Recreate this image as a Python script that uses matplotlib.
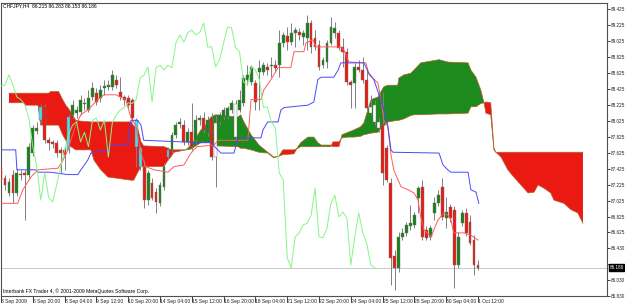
import numpy as np
import matplotlib.pyplot as plt
from matplotlib.patches import Rectangle
import matplotlib.transforms as mtransforms

plt.rcParams['font.family'] = ['Liberation Sans', 'DejaVu Sans']

# CHFJPY H4 candles, 3 Sep - 1 Oct 2009
opens = [87.43, 87.31, 87.12, 87.35, 87.12, 87.36, 87.37, 87.35, 87.62, 87.90,
         88.03, 88.20, 87.78, 87.76, 87.75, 87.66, 87.66, 87.66, 88.10, 88.12,
         88.13, 88.24, 88.16, 88.32, 88.37, 88.31, 88.44, 88.45, 88.45, 88.54,
         88.39, 88.32, 88.31, 88.29, 88.03, 87.68, 87.45, 87.03, 87.25, 87.13,
         86.99, 87.20, 87.57, 87.66, 87.85, 87.99, 87.97, 87.76, 87.88, 87.78,
         88.03, 88.06, 87.87, 88.06, 87.57, 88.01, 88.07, 88.07, 88.16, 87.82,
         88.16, 88.25, 88.54, 88.51, 88.50, 88.64, 88.64, 88.70, 88.71, 88.72,
         88.72, 89.00, 89.09, 89.01, 89.13, 89.14, 89.07, 89.06, 89.25, 89.06,
         88.97, 88.72, 88.76, 89.00, 89.13, 89.13, 88.95, 88.89, 88.51, 88.50,
         88.70, 88.66, 88.54, 88.12, 88.22, 88.01, 87.97, 87.68, 87.25, 86.33,
         86.18, 86.57, 86.62, 86.71, 86.72, 87.06, 87.20, 86.66, 86.57, 86.87,
         86.99, 87.20, 86.81, 86.94, 86.91, 86.22, 86.74, 86.87, 86.76, 86.53,
         86.215]
highs = [87.53, 87.35, 87.31, 87.41, 87.43, 87.41, 87.41, 87.75, 87.97, 88.01,
         88.24, 88.24, 87.82, 87.78, 87.78, 87.70, 87.70, 88.11, 88.29, 88.21,
         88.35, 88.31, 88.41, 88.51, 88.44, 88.47, 88.54, 88.54, 88.66, 88.60,
         88.57, 88.35, 88.35, 88.31, 88.06, 87.72, 87.53, 87.41, 87.31, 87.18,
         87.26, 87.50, 87.70, 87.88, 88.01, 88.06, 88.03, 87.94, 88.25, 88.10,
         88.10, 88.13, 88.09, 88.12, 88.10, 88.13, 88.20, 88.21, 88.29, 88.29,
         88.41, 88.60, 88.72, 88.72, 88.54, 88.79, 88.76, 88.75, 88.82, 88.79,
         89.16, 89.14, 89.20, 89.25, 89.20, 89.19, 89.16, 89.35, 89.29, 89.16,
         89.04, 88.82, 89.04, 89.32, 89.26, 89.16, 89.06, 88.94, 88.54, 88.75,
         88.79, 88.82, 88.66, 88.35, 88.29, 88.06, 88.39, 87.72, 87.31, 86.41,
         86.63, 86.68, 86.76, 86.97, 86.88, 87.21, 87.28, 86.71, 86.72, 87.07,
         87.16, 87.31, 87.07, 86.98, 86.96, 86.63, 86.91, 86.93, 86.84, 86.59,
         86.283]
lows = [87.03, 87.16, 87.08, 86.99, 87.08, 87.28, 86.78, 87.31, 87.58, 87.86,
        88.00, 87.75, 87.66, 87.68, 87.57, 87.37, 87.41, 87.62, 88.06, 88.06,
        88.10, 88.16, 88.13, 88.29, 88.22, 88.26, 88.35, 88.41, 88.41, 88.44,
        88.29, 88.22, 88.19, 88.01, 87.45, 87.41, 86.93, 86.97, 87.03, 86.87,
        86.96, 87.16, 87.53, 87.62, 87.81, 87.94, 87.72, 87.72, 87.66, 87.75,
        87.97, 87.87, 87.83, 87.53, 87.20, 87.97, 88.03, 88.05, 88.12, 87.78,
        88.13, 88.21, 88.47, 88.47, 88.16, 88.16, 88.60, 88.60, 88.57, 88.64,
        88.57, 88.95, 88.91, 88.97, 88.95, 89.04, 88.97, 88.91, 88.87, 88.91,
        88.66, 88.69, 88.69, 88.97, 89.06, 88.91, 88.70, 88.47, 88.19, 88.19,
        88.64, 88.50, 88.16, 88.10, 87.97, 87.88, 87.22, 87.26, 85.97, 85.90,
        86.13, 86.53, 86.58, 86.66, 86.68, 86.87, 86.53, 86.53, 86.53, 86.78,
        86.96, 86.78, 86.68, 86.76, 85.93, 86.18, 86.71, 86.58, 86.47, 86.09,
        86.153]
closes = [87.28, 87.22, 87.26, 87.12, 87.37, 87.35, 87.35, 87.70, 87.94, 87.94,
          88.20, 87.78, 87.75, 87.73, 87.62, 87.62, 87.60, 88.07, 88.22, 88.16,
          88.29, 88.25, 88.31, 88.44, 88.26, 88.41, 88.46, 88.47, 88.60, 88.47,
          88.32, 88.29, 88.22, 88.06, 87.70, 87.45, 87.03, 87.37, 87.06, 87.01,
          87.22, 87.45, 87.66, 87.85, 87.97, 88.01, 87.76, 87.88, 87.70, 88.03,
          88.06, 87.91, 88.03, 87.57, 88.00, 88.10, 88.16, 88.19, 88.25, 88.24,
          88.29, 88.56, 88.60, 88.70, 88.26, 88.69, 88.72, 88.66, 88.72, 88.69,
          89.00, 89.10, 89.01, 89.13, 89.16, 89.10, 89.13, 89.25, 88.95, 88.95,
          88.70, 88.79, 89.00, 89.20, 89.19, 88.94, 88.89, 88.51, 88.47, 88.70,
          88.66, 88.54, 88.19, 88.20, 88.01, 87.94, 87.37, 87.28, 86.31, 86.18,
          86.57, 86.62, 86.72, 86.74, 86.84, 87.18, 86.57, 86.56, 86.68, 86.99,
          87.09, 86.82, 86.88, 86.81, 86.22, 86.57, 86.87, 86.62, 86.49, 86.22,
          86.186]

# candles drawn over the cloud (colours inverted there)
in_red_cloud = [10, 17, 34, 35, 42]
in_green_cloud = [54, 59, 93, 94, 95]

# Tenkan-sen (red) and Kijun-sen (blue), vertices as (bar, price)
tenkan_bar = [0.0, 4.2, 5.5, 7.5, 9.3, 14.3, 15.6, 16.8, 18.8, 20.1, 21.8, 24.4, 25.9,
              28.9, 31.4, 32.7, 33.9, 35.2, 36.4, 38.5, 42.0, 43.5, 46.0, 47.8, 49.3,
              53.6, 54.6, 62.1, 62.9, 65.4, 66.1, 67.9, 69.7, 72.9, 73.7, 76.2, 76.7,
              78.5, 79.2, 85.5, 86.3, 87.5, 91.8, 92.6, 94.8, 95.6, 96.3, 97.3, 98.1,
              98.8, 100.6, 102.4, 103.9, 104.9, 105.6, 106.4, 108.2, 108.9, 109.9,
              111.4, 112.4, 113.2, 113.9, 116.5, 118.2, 120.0]
tenkan = [86.99, 86.99, 87.16, 87.32, 87.41, 87.43, 87.53, 87.66, 87.97, 88.10, 88.16,
          88.29, 88.35, 88.35, 88.29, 88.06, 87.97, 87.62, 87.45, 87.41, 87.38, 87.45,
          87.47, 87.62, 87.70, 87.72, 87.78, 87.78, 88.29, 88.29, 88.41, 88.54, 88.69,
          88.69, 88.89, 88.89, 89.00, 89.04, 88.95, 88.95, 88.91, 88.76, 88.75, 88.60,
          88.50, 88.29, 88.03, 87.95, 87.60, 87.41, 87.20, 87.16, 87.12, 87.03, 86.82,
          86.66, 86.57, 86.66, 86.78, 86.87, 86.84, 86.78, 86.62, 86.62, 86.59, 86.53]
kijun_bar = [0.0, 3.7, 4.0, 8.8, 9.3, 12.5, 16.8, 19.3, 20.1, 21.8, 22.6, 26.9, 27.6,
             31.9, 32.2, 32.7, 34.4, 35.2, 35.9, 50.3, 52.8, 55.3, 58.6, 59.6, 65.4,
             65.9, 67.1, 69.7, 70.4, 71.2, 77.2, 78.7, 79.7, 80.5, 83.7, 84.8, 85.5,
             91.3, 92.3, 93.8, 95.1, 96.1, 97.3, 98.1, 98.6, 110.2, 111.2, 112.4, 113.2,
             117.5, 118.2, 119.5, 120.2]
kijun = [87.66, 87.66, 87.41, 87.41, 87.38, 87.38, 87.35, 87.35, 87.41, 87.53, 87.62,
         87.66, 87.72, 87.72, 87.87, 88.03, 88.03, 87.97, 87.78, 87.75, 87.75, 87.62,
         87.62, 87.81, 87.81, 87.91, 88.01, 88.01, 88.16, 88.19, 88.22, 88.26, 88.54,
         88.57, 88.57, 88.66, 88.75, 88.75, 88.64, 88.54, 88.35, 88.20, 87.97, 87.66,
         87.63, 87.62, 87.47, 87.41, 87.38, 87.38, 87.16, 87.13, 86.99]

# Senkou span A / B (cloud edges), same bar positions for both
cloud_bar = [2.0, 5.7, 6.2, 9.3, 10.0, 12.0, 12.5, 14.5, 15.5, 16.3, 16.8, 17.6, 18.8,
             20.1, 22.6, 23.4, 25.1, 26.9, 32.7, 33.4, 34.4, 35.2, 35.9, 41.0, 42.0,
             42.7, 43.5, 46.5, 47.8, 49.0, 50.3, 51.5, 52.8, 54.0, 59.6, 60.3, 61.1,
             62.9, 64.9, 67.1, 68.6, 69.9, 70.9, 73.7, 74.7, 75.4, 77.2, 78.7, 79.7,
             80.5, 83.0, 83.5, 85.0, 85.8, 87.3, 88.8, 90.5, 91.3, 92.3, 93.1, 94.8,
             95.6, 96.3, 97.3, 99.8, 100.1, 101.4, 103.1, 103.9, 105.6, 110.2, 112.4,
             117.5, 118.2, 119.5, 120.7, 121.5, 122.0, 123.2, 124.0, 124.5, 125.8,
             127.5, 129.0, 130.8, 132.6, 134.1, 135.1, 136.6, 138.3, 139.1, 141.6,
             143.4, 145.1, 146.4]
span_a = [88.25, 88.25, 88.22, 88.22, 87.97, 87.97, 87.97, 87.97, 87.85, 87.78, 87.72,
          87.70, 87.66, 87.66, 87.66, 87.53, 87.41, 87.32, 87.28, 87.28, 87.38, 87.45,
          87.45, 87.45, 87.53, 87.57, 87.63, 87.66, 87.72, 87.81, 87.91, 87.97, 88.07,
          88.10, 88.07, 88.10, 88.01, 87.85, 87.72, 87.63, 87.57, 87.58, 87.60, 87.61,
          87.70, 87.75, 87.82, 87.82, 87.75, 87.72, 87.72, 87.70, 87.70, 87.85, 87.88,
          87.91, 87.95, 88.00, 88.16, 88.29, 88.32, 88.39, 88.45, 88.47, 88.47, 88.56,
          88.60, 88.62, 88.66, 88.75, 88.79, 88.76, 88.75, 88.66, 88.57, 88.41, 88.25,
          88.12, 88.10, 87.66, 87.63, 87.57, 87.41, 87.32, 87.22, 87.12, 87.13, 87.22,
          87.18, 87.12, 87.03, 86.99, 86.91, 86.87, 86.74]
span_b = [88.37, 88.37, 88.37, 88.37, 88.37, 88.37, 88.39, 88.39, 88.29, 88.22, 88.19,
          88.13, 88.03, 88.02, 88.01, 88.01, 88.01, 88.01, 88.01, 87.96, 87.93, 87.76,
          87.71, 87.70, 87.68, 87.66, 87.66, 87.66, 87.67, 87.71, 87.75, 87.75, 87.75,
          87.71, 87.70, 87.68, 87.68, 87.66, 87.63, 87.62, 87.56, 87.58, 87.66, 87.66,
          87.68, 87.70, 87.70, 87.70, 87.70, 87.70, 87.70, 87.76, 87.76, 87.81, 87.82,
          87.82, 87.83, 87.85, 87.86, 87.87, 87.88, 87.93, 87.96, 88.01, 88.03, 88.03,
          88.05, 88.09, 88.10, 88.10, 88.11, 88.11, 88.12, 88.20, 88.20, 88.24, 88.25,
          88.26, 88.25, 87.68, 87.63, 87.63, 87.63, 87.63, 87.63, 87.63, 87.63, 87.63,
          87.63, 87.63, 87.63, 87.63, 87.63, 87.63, 87.63]

price_ticks = [89.425, 89.225, 89.025, 88.825, 88.625, 88.425, 88.225, 88.025, 87.825,
               87.625, 87.425, 87.225, 87.025, 86.825, 86.625, 86.430, 86.230, 86.030,
               85.830]
price_labels = ['89.425', '89.225', '89.025', '88.825', '88.625', '88.425', '88.225',
                '88.025', '87.825', '87.625', '87.425', '87.225', '87.025', '86.825',
                '86.625', '86.430', '', '86.030', '85.830']
date_labels = ['3 Sep 2009', '6 Sep 20:00', '8 Sep 04:00', '9 Sep 12:00', '10 Sep 20:00',
               '14 Sep 04:00', '15 Sep 12:00', '16 Sep 20:00', '18 Sep 04:00',
               '21 Sep 12:00', '22 Sep 20:00', '24 Sep 04:00', '25 Sep 12:00',
               '28 Sep 20:00', '30 Sep 04:00', '1 Oct 12:00']
bid = 86.186

o = np.array(opens); h = np.array(highs); l = np.array(lows); c = np.array(closes)
bars = np.arange(len(c))
cb = np.array(cloud_bar); sa = np.array(span_a); sb = np.array(span_b)

fig = plt.figure(figsize=(6.25, 3.05), dpi=100)
ax = fig.add_axes([0.5 / 625, 9 / 305, 606.5 / 625, 293 / 305])
ax.set_xlim(-0.13, 152.45)
ax.set_ylim(85.829, 89.50)

# cloud
ax.fill_between(cb, sa, sb, where=sa >= sb, interpolate=True, color='#1d8a1d', lw=0, zorder=1)
ax.fill_between(cb, sa, sb, where=sa < sb, interpolate=True, color='#ea1a12', lw=0, zorder=1)
ax.plot(cb, sa, color='#b0602a', lw=0.5, zorder=1.2)
ax.plot(cb, sb, color='#b0602a', lw=0.5, zorder=1.2)

# candles
ax.vlines(bars, l, h, color='#808080', lw=0.7, zorder=2)
w = 0.72
for i in bars:
    if c[i] >= o[i]:
        col = '#1b801b'
    else:
        col = '#e81c14'
    if i in in_red_cloud:
        col = '#4fd8ee'
    if i in in_green_cloud:
        col = 'white'
    lo = min(o[i], c[i])
    ht = max(abs(c[i] - o[i]), 0.012)
    ax.add_patch(Rectangle((i - w / 2, lo), w, ht, facecolor=col,
                           edgecolor='#707070', lw=0.3, zorder=3))

# lines
ax.plot(tenkan_bar, tenkan, color='#ff5a5a', lw=0.7, zorder=4)
ax.plot(kijun_bar, kijun, color='#4848ff', lw=0.7, zorder=4)
ax.plot(bars[:-26], c[26:], color='#86f586', lw=0.7, zorder=4)

ax.axhline(bid, color='#c8c8c8', lw=0.7, zorder=0.5)

# axes look
for s in ax.spines.values():
    s.set_color('#505050')
    s.set_linewidth(0.8)
ax.yaxis.tick_right()
ax.set_yticks(price_ticks)
ax.set_yticklabels(price_labels)
ax.tick_params(axis='y', direction='out', length=2, width=0.6, pad=0.6,
               labelsize=3.3, colors='#202020')
ax.set_xticks(np.arange(len(date_labels)) * 8)
ax.set_xticklabels(date_labels)
ax.tick_params(axis='x', direction='out', length=4, width=0.6, pad=-2,
               labelsize=3.6, colors='#202020')
for t in ax.get_xticklabels():
    t.set_ha('left')

trans = mtransforms.blended_transform_factory(ax.transAxes, ax.transData)
ax.text(1.004, bid, '86.186', transform=trans, fontsize=3.3, color='white',
        va='center', ha='left',
        bbox=dict(facecolor='black', edgecolor='black', pad=0.5))

fig.text(3 / 625, 1 - 5.5 / 305, 'CHFJPY,H4  86.215 86.283 86.153 86.186',
         fontsize=3.6, va='center', ha='left')
fig.text(3 / 625, 1 - 291 / 305,
         'Interbank FX Trader 4, \u00a9 2001-2009 MetaQuotes Software Corp.',
         fontsize=3.6, va='center', ha='left')

fig.savefig('out.png', dpi=100)
